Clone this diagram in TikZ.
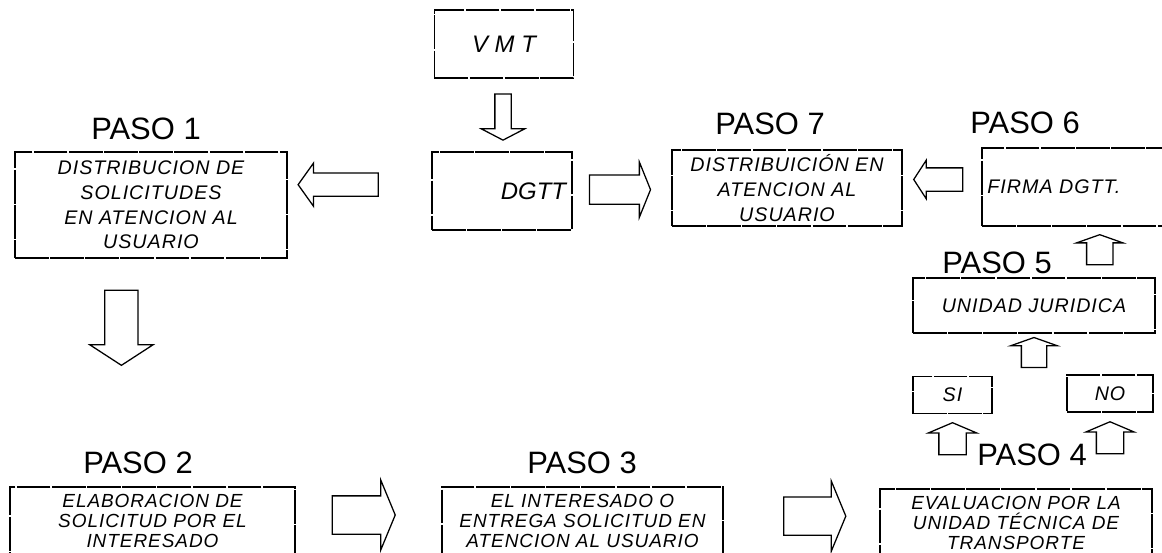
\documentclass[tikz,border=0pt]{standalone}
\usepackage{fontspec}
\setmainfont{Liberation Sans}
\newfontfamily\boxfont[LetterSpace=5.0]{Liberation Sans}
\usetikzlibrary{shapes,arrows,positioning,calc}

\begin{document}
\begin{tikzpicture}[x=0.025cm, y=-0.025cm,
    stepbox/.style={draw, rectangle, line width=0.9pt, dash pattern=on 24pt off 1pt, align=center, inner sep=2pt, font=\fontsize{14}{17.5}\boxfont\itshape},
    lowbox/.style={stepbox, font=\fontsize{13.5}{14.5}\boxfont\itshape},
    pasolabel/.style={font=\fontsize{22}{24}\selectfont, inner sep=0pt},
    blockarrow/.style={draw, single arrow, line width=0.9pt, inner xsep=0pt, minimum width=0pt}]
    \useasboundingbox (0,0) rectangle (1162,552);
    \clip (0,0) rectangle (1162,552);

    % Top boxes
    \node[stepbox, minimum width=3.475cm, minimum height=1.7cm, font=\fontsize{17}{19}\selectfont\itshape] (vmt) at (504,44) {V M T};
    \node[stepbox, minimum width=3.5cm, minimum height=1.95cm, text width=3.2cm, align=right, font=\fontsize{17}{19}\selectfont\itshape] (dgtt) at (502,191) {DGTT};

    % Paso 1
    \node[stepbox, minimum width=6.8cm, minimum height=2.65cm] (p1) at (151,205) {
        DISTRIBUCION DE\\
        SOLICITUDES\\
        EN ATENCION AL\\
        USUARIO
    };
    \node[pasolabel] (l1) at (146,129) {PASO 1};

    % Paso 7 and Paso 6
    \node[stepbox, minimum width=5.75cm, minimum height=1.9cm] (p7) at (787,188) {
        DISTRIBUICIÓN EN\\
        ATENCION AL\\
        USUARIO
    };
    \node[pasolabel] (l7) at (770,124) {PASO 7};
    \node[stepbox, minimum width=4.575cm, minimum height=1.95cm, text width=4.3cm, align=left] (p6) at (1073.5,187) {FIRMA DGTT.};
    \node[pasolabel] (l6) at (1025,123) {PASO 6};

    % Paso 5 with SI / NO
    \node[stepbox, minimum width=6.05cm, minimum height=1.375cm] (p5) at (1034,305.5) {UNIDAD JURIDICA};
    \node[pasolabel] (l5) at (997,263) {PASO 5};
    \node[stepbox, minimum width=1.975cm, minimum height=0.925cm] (si) at (952.5,395) {SI};
    \node[stepbox, minimum width=2.15cm, minimum height=0.925cm] (no) at (1110,393.5) {NO};

    % Bottom row
    \node[lowbox, minimum width=7.125cm, minimum height=1.7cm] (p2) at (152.5,521) {
        ELABORACION DE\\
        SOLICITUD POR EL\\
        INTERESADO
    };
    \node[pasolabel] (l2) at (138,463) {PASO 2};
    \node[lowbox, minimum width=7.025cm, minimum height=1.7cm] (p3) at (582.5,521) {
        EL INTERESADO O\\
        ENTREGA SOLICITUD EN\\
        ATENCION AL USUARIO
    };
    \node[pasolabel] (l3) at (582,463) {PASO 3};
    \node[lowbox, minimum width=6.8cm, minimum height=1.7cm] (p4) at (1016,523) {
        EVALUACION POR LA\\
        UNIDAD TÉCNICA DE\\
        TRANSPORTE
    };
    \node[pasolabel] (l4) at (1032,455) {PASO 4};

    % Block arrows
    \node[blockarrow, rotate=-90, minimum height=1.15cm, inner ysep=0.1875cm, single arrow head extend=0.3375cm, single arrow tip angle=125] (a1) at ($(vmt.south)!0.5!(dgtt.north)$) {};
    \node[blockarrow, rotate=180, minimum height=2cm, inner ysep=0.275cm, single arrow head extend=0.25cm, single arrow tip angle=109] (a2) at ($(p1.east)!0.38!(dgtt.west)+(0,-15)$) {};
    \node[blockarrow, minimum height=1.525cm, inner ysep=0.35cm, single arrow head extend=0.325cm, single arrow tip angle=136] (a3) at ($(dgtt.east)!0.45!(p7.west)$) {};
    \node[blockarrow, rotate=180, minimum height=1.225cm, inner ysep=0.275cm, single arrow head extend=0.1875cm, single arrow tip angle=114] (a4) at ($(p7.east)!0.5!(p6.west)+(0,-8)$) {};
    \node[blockarrow, rotate=90, minimum height=0.75cm, inner ysep=0.3125cm, single arrow head extend=0.25cm, single arrow tip angle=141] (a5) at ($(p5.north)!0.5!(p6.south)+(46,0)$) {};
    \node[blockarrow, rotate=90, minimum height=0.75cm, inner ysep=0.3cm, single arrow head extend=0.2625cm, single arrow tip angle=141] (a6) at ($(p5.south)!0.5!(p5.south |- si.north)$) {};
    \node[blockarrow, rotate=90, minimum height=0.8cm, inner ysep=0.325cm, single arrow head extend=0.2625cm, single arrow tip angle=134] (a7) at ($(si.south)!0.37!(si.south |- p4.north)$) {};
    \node[blockarrow, rotate=90, minimum height=0.8cm, inner ysep=0.325cm, single arrow head extend=0.2625cm, single arrow tip angle=134] (a8) at ($(no.south)!0.37!(no.south |- p4.north)$) {};
    \node[blockarrow, rotate=-90, minimum height=1.875cm, inner ysep=0.4cm, single arrow head extend=0.375cm, single arrow tip angle=114] (a9) at ($(p1.south)!0.28!(p2.north)+(-30,0)$) {};
    \node[blockarrow, minimum height=1.575cm, inner ysep=0.4625cm, single arrow head extend=0.4cm, single arrow tip angle=135] (a10) at ($(p2.east)!0.44!(p3.west)+(0,-6)$) {};
    \node[blockarrow, minimum height=1.55cm, inner ysep=0.4625cm, single arrow head extend=0.4cm, single arrow tip angle=135] (a11) at ($(p3.east)!0.56!(p4.west)+(0,-6)$) {};
\end{tikzpicture}
\end{document}
